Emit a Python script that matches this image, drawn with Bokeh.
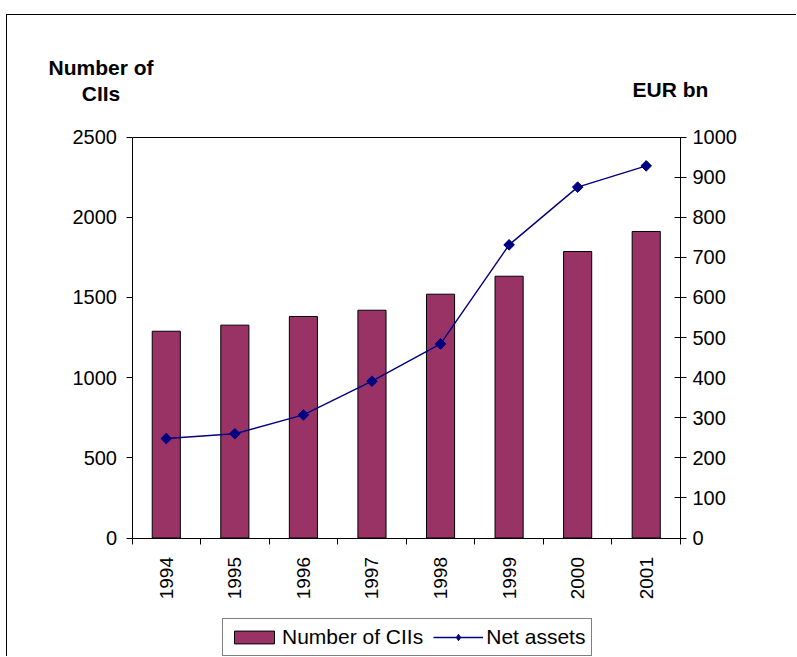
import math
from bokeh.plotting import figure
from bokeh.models import (Range1d, LinearAxis, FixedTicker, Legend, LegendItem, Label)
from bokeh.embed import file_html
from bokeh.resources import INLINE

years = [1994, 1995, 1996, 1997, 1998, 1999, 2000, 2001]
year_labels = ["1994", "1995", "1996", "1997", "1998", "1999", "2000", "2001"]
num_ciis = [1289, 1327, 1381, 1420, 1520, 1632, 1786, 1911]
net_assets = [248, 260, 307, 391, 484, 731, 875, 928]
left_ticks = [0, 500, 1000, 1500, 2000, 2500]
right_ticks = [0, 100, 200, 300, 400, 500, 600, 700, 800, 900, 1000]
left_title = ["Number of", "CIIs"]
right_title = "EUR bn"
series_names = ["Number of CIIs", "Net assets"]

FONT = "Liberation Sans"
BAR = "#993366"
LINE = "#000080"

# ---- geometry (page pixels) ----
OX, OY = 7, 15                 # figure origin on the page (after margin + border)
W, H = 797 - OX, 657 - OY
PL, PR, PT, PB = 131.5, 680.0, 136.5, 537.5   # plot-area box on the page
X0, X1 = years[0] - 0.5, years[-1] + 0.5
L0, L1 = left_ticks[0], left_ticks[-1]
R0, R1 = right_ticks[0], right_ticks[-1]

xs = (X1 - X0) / (PR - PL)
ls = (L1 - L0) / (PB - PT)
rs = (R1 - R0) / (PB - PT)

def px_x(px):
    return X0 + (px - PL) * xs

def px_y(py):
    return L0 + (PB - py) * ls

x_range = Range1d(px_x(OX), px_x(797))
y_range = Range1d(px_y(657), px_y(OY))
r_range = Range1d(R0 - (657 - PB) * rs, R0 + (PB - OY) * rs)

p = figure(width=W, height=H, output_backend="svg", toolbar_location=None,
           x_range=x_range, y_range=y_range, min_border=0,
           x_axis_location=None, y_axis_location=None,
           background_fill_color="white", border_fill_color="white",
           outline_line_color=None)
p.margin = (14, 0, 0, 6)
p.styles = {"border-top": "1px solid black", "border-left": "1px solid black"}
p.xgrid.visible = False
p.ygrid.visible = False
p.extra_y_ranges = {"right": r_range}

bars = p.vbar(x=years, top=num_ciis, width=0.41, fill_color=BAR,
              line_color="black", line_width=1)
ln = p.line(x=years, y=net_assets, y_range_name="right", line_color=LINE, line_width=1.4)
# diamond-shaped copy (used for the legend swatch), hidden under the rotated squares
mk_leg = p.scatter(x=years, y=net_assets, y_range_name="right", marker="diamond",
                   size=7.5, fill_color=LINE, line_color=LINE)
mk = p.scatter(x=years, y=net_assets, y_range_name="right", marker="square",
               angle=math.pi / 4, size=7.5, fill_color=LINE, line_color=LINE)

def style_labels(ax, size):
    ax.major_label_text_font = FONT
    ax.major_label_text_font_size = size
    ax.major_label_text_color = "black"
    ax.axis_line_color = "black"
    ax.major_tick_line_color = "black"
    ax.minor_tick_line_color = "black"

# x axis along y = 0
xa = LinearAxis(fixed_location=L0, bounds=(X0, X1),
                ticker=FixedTicker(ticks=years, minor_ticks=[y - 0.5 for y in years] + [X1]))
style_labels(xa, "19px")
xa.major_label_overrides = {y: l for y, l in zip(years, year_labels)}
xa.major_tick_out = 0
xa.major_tick_in = 0
xa.minor_tick_out = 6
xa.minor_tick_in = 0
xa.major_label_orientation = math.pi / 2
xa.major_label_standoff = 13
p.add_layout(xa, "below")

# top border of the plot area
ta = LinearAxis(fixed_location=L1, bounds=(X0, X1), ticker=FixedTicker(ticks=[]))
ta.axis_line_color = "black"
ta.major_tick_line_color = None
ta.minor_tick_line_color = None
ta.major_label_text_font_size = "0px"
p.add_layout(ta, "above")

# left axis
ya = LinearAxis(fixed_location=X0, bounds=(L0, L1), ticker=FixedTicker(ticks=left_ticks))
style_labels(ya, "20px")
ya.major_tick_out = 6
ya.major_tick_in = 0
ya.minor_tick_out = 0
ya.minor_tick_in = 0
ya.major_label_standoff = 9
p.add_layout(ya, "left")

# right axis
ra = LinearAxis(y_range_name="right", fixed_location=X1, bounds=(R0, R1),
                ticker=FixedTicker(ticks=right_ticks))
style_labels(ra, "20px")
ra.major_tick_out = 6
ra.major_tick_in = 6
ra.minor_tick_out = 0
ra.minor_tick_in = 0
ra.major_label_standoff = 6
p.add_layout(ra, "right")

# axis titles
for txt, py in [(left_title[0], 67), (left_title[1], 93)]:
    p.add_layout(Label(x=px_x(100.5), y=px_y(py), text=txt, text_font=FONT,
                       text_font_size="21px", text_font_style="bold",
                       text_align="center", text_baseline="middle", text_color="black"))
p.add_layout(Label(x=px_x(670), y=px_y(89), text=right_title, text_font=FONT,
                   text_font_size="21px", text_font_style="bold",
                   text_align="center", text_baseline="middle", text_color="black"))

legend = Legend(items=[LegendItem(label=series_names[0], renderers=[bars]),
                       LegendItem(label=series_names[1], renderers=[ln, mk_leg])],
                orientation="horizontal", location=(222 - OX, 1))
legend.label_text_font = FONT
legend.label_text_font_size = "21px"
legend.label_text_color = "black"
legend.glyph_width = 50
legend.glyph_height = 16
legend.label_standoff = 3
legend.spacing = 10
legend.padding = 6
legend.margin = 0
legend.border_line_color = "black"
legend.border_line_width = 1
legend.background_fill_color = "white"
legend.background_fill_alpha = 1
p.add_layout(legend, "center")

open("out.html", "w").write(file_html(p, INLINE))
